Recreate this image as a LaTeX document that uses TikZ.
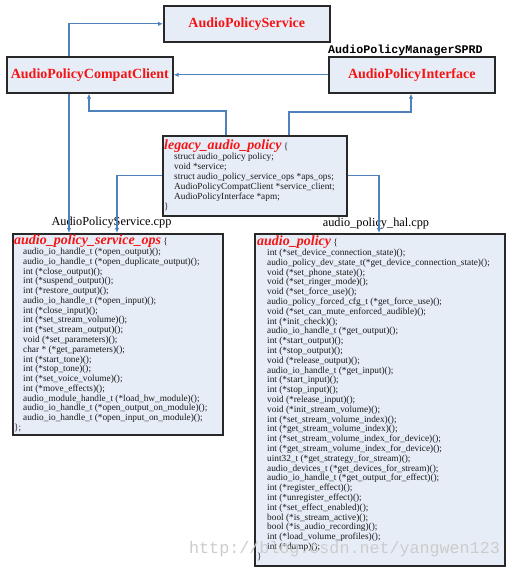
\documentclass[tikz,border=0pt]{standalone}
\usepackage{fontspec}
\setmainfont{Liberation Serif}
\setmonofont{Liberation Mono}
\usetikzlibrary{arrows.meta}
\definecolor{boxfill}{RGB}{231,237,247}
\definecolor{boxline}{RGB}{40,40,40}
\definecolor{connblue}{RGB}{79,129,189}
\definecolor{titlered}{RGB}{245,20,20}
\definecolor{codeblack}{RGB}{25,25,25}
\tikzset{
  box/.style={draw=boxline, line width=1.6pt, fill=boxfill, inner sep=0pt, anchor=north west},
  boxtitle/.style={font=\fontsize{14}{16}\selectfont\bfseries, text=titlered},
  conn/.style={draw=connblue, line width=1.1pt, -{Latex[length=5pt,width=4.5pt]}},
  code/.style={font=\fontsize{9.3}{10}\selectfont, anchor=base west, inner sep=0pt, text=codeblack},
  codetitle/.style={font=\fontsize{14}{16}\selectfont\bfseries\itshape, text=titlered, anchor=base west, inner sep=0pt},
  filelabel/.style={font=\fontsize{12.3}{14}\selectfont, text=black, inner sep=0pt},
}
\newcommand{\brc}{{\fontsize{9.3}{10}\selectfont\upshape\mdseries\color{codeblack}\ \{}}
\begin{document}
\begin{tikzpicture}[x=1pt,y=-1pt]
\useasboundingbox (0,0) rectangle (510,570);

% top boxes
\node[box, boxtitle, minimum width=166pt, minimum height=36pt] (aps) at (163,5) {AudioPolicyService};
\node[box, boxtitle, minimum width=166pt, minimum height=36pt] (cc) at (6,56) {AudioPolicyCompatClient};
\node[box, boxtitle, minimum width=166pt, minimum height=36pt] (api) at (328,56) {AudioPolicyInterface};
\node[font=\fontsize{11.7}{13}\selectfont\ttfamily\bfseries, anchor=base west, inner sep=0pt] (sprd) at (328,53) {AudioPolicyManagerSPRD};

% legacy box
\node[box, minimum width=184pt, minimum height=80pt] (leg) at (162,135) {};
\node[codetitle] (leg-t) at (164,149) {legacy\_audio\_policy\brc};
\foreach \t [count=\i] in {
  {struct audio\_policy policy;},
  {void *service;},
  {struct audio\_policy\_service\_ops *aps\_ops;},
  {AudioPolicyCompatClient *service\_client;},
  {AudioPolicyInterface *apm;}}
  \node[code] (leg-\i) at (174,159.5+\i*10-10) {\t};
\node[code] (leg-end) at (164,209.5) {\}};

% service ops box
\node[box, minimum width=210pt, minimum height=201pt] (ops) at (12,233) {};
\node[codetitle] (ops-t) at (14,244) {audio\_policy\_service\_ops\brc};
\foreach \t [count=\i] in {
  {audio\_io\_handle\_t (*open\_output)();},
  {audio\_io\_handle\_t (*open\_duplicate\_output)();},
  {int (*close\_output)();},
  {int (*suspend\_output)();},
  {int (*restore\_output)();},
  {audio\_io\_handle\_t (*open\_input)();},
  {int (*close\_input)();},
  {int (*set\_stream\_volume)();},
  {int (*set\_stream\_output)();},
  {void (*set\_parameters)();},
  {char * (*get\_parameters)();},
  {int (*start\_tone)();},
  {int (*stop\_tone)();},
  {int (*set\_voice\_volume)();},
  {int (*move\_effects)();},
  {audio\_module\_handle\_t (*load\_hw\_module)();},
  {audio\_io\_handle\_t (*open\_output\_on\_module)();},
  {audio\_io\_handle\_t (*open\_input\_on\_module)();}}
  \node[code] (ops-\i) at (23,254.5+\i*9.78-9.78) {\t};
\node[code] (ops-end) at (14,430.5) {\};};

% audio policy box
\node[box, minimum width=250pt, minimum height=332pt] (ap) at (254,233) {};
\node[codetitle] (ap-t) at (257,245) {audio\_policy\brc};
\foreach \t [count=\i] in {
  {int (*set\_device\_connection\_state)();},
  {audio\_policy\_dev\_state\_t(*get\_device\_connection\_state)();},
  {void (*set\_phone\_state)();},
  {void (*set\_ringer\_mode)();},
  {void (*set\_force\_use)();},
  {audio\_policy\_forced\_cfg\_t (*get\_force\_use)();},
  {void (*set\_can\_mute\_enforced\_audible)();},
  {int (*init\_check)();},
  {audio\_io\_handle\_t (*get\_output)();},
  {int (*start\_output)();},
  {int (*stop\_output)();},
  {void (*release\_output)();},
  {audio\_io\_handle\_t (*get\_input)();},
  {int (*start\_input)();},
  {int (*stop\_input)();},
  {void (*release\_input)();},
  {void (*init\_stream\_volume)();},
  {int (*set\_stream\_volume\_index)();},
  {int (*get\_stream\_volume\_index)();},
  {int (*set\_stream\_volume\_index\_for\_device)();},
  {int (*get\_stream\_volume\_index\_for\_device)();},
  {uint32\_t (*get\_strategy\_for\_stream)();},
  {audio\_devices\_t (*get\_devices\_for\_stream)();},
  {audio\_io\_handle\_t (*get\_output\_for\_effect)();},
  {int (*register\_effect)();},
  {int (*unregister\_effect)();},
  {int (*set\_effect\_enabled)();},
  {bool (*is\_stream\_active)();},
  {bool (*is\_audio\_recording)();},
  {int (*load\_volume\_profiles)();},
  {int (*dump)();}}
  \node[code] (ap-\i) at (267,255.5+\i*9.8-9.8) {\t};
\node[code] (ap-end) at (257,559.5) {\}};

% file labels
\node[filelabel] (opsfile) at (111.5,223) {AudioPolicyService.cpp};
\node[filelabel] (apfile) at (376,224) {audio\_policy\_hal.cpp};

% connectors
\draw[conn] ([xshift=63pt]cc.north west) |- (aps.west);
\draw[conn] (api.west) -- (cc.east);
\draw[conn] ([xshift=64pt]leg.north west) -- ++(0,-24) -| ([xshift=83pt]cc.south west);
\draw[conn] ([xshift=127pt]leg.north west) -- ++(0,-23) -| ([xshift=83pt]api.south west);
\draw[conn] ([xshift=63pt]cc.south west) -- ([xshift=57pt]ops.north west);
\draw[conn] (leg.west) -| ([xshift=105pt]ops.north west);
\draw[conn] (leg.east) -| ([xshift=125pt]ap.north west);

% watermark
\node[font=\fontsize{16.7}{18}\selectfont\ttfamily, text=black!20, anchor=west, inner sep=0pt] (wm) at (189,549) {http://blog.csdn.net/yangwen123};
\end{tikzpicture}
\end{document}
